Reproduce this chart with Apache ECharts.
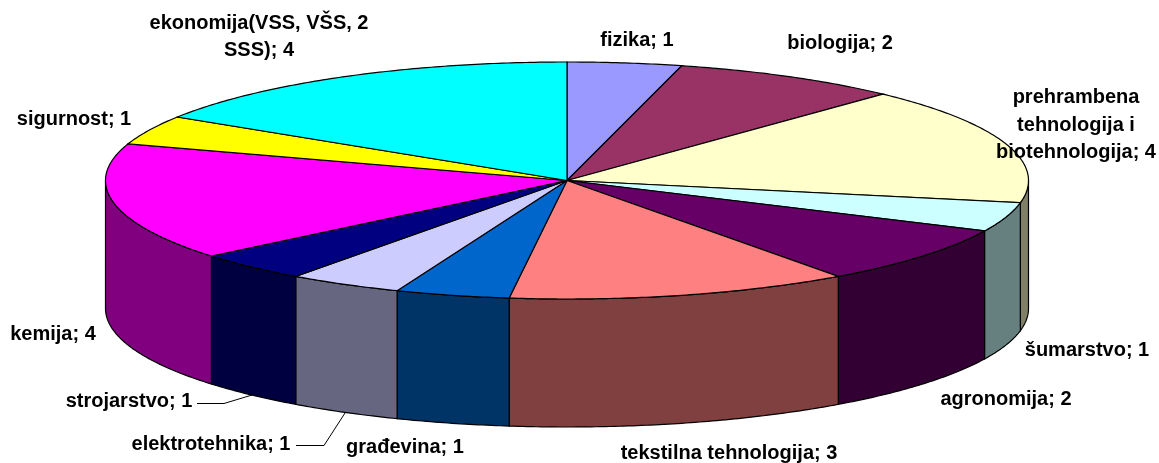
<!DOCTYPE html>
<html>
<head>
<meta charset="utf-8">
<title>pie</title>
<script src="https://cdn.jsdelivr.net/npm/echarts@6/dist/echarts.min.js"></script>
<style>
html,body{margin:0;padding:0;background:#fff;}
#main{width:1159px;height:463px;}
</style>
</head>
<body>
<div id="main"></div>
<script>
var categories = ['fizika','biologija','prehrambena tehnologija i biotehnologija','šumarstvo','agronomija','tekstilna tehnologija','građevina','elektrotehnika','strojarstvo','kemija','sigurnost','ekonomija(VSS, VŠS, 2 SSS)'];
var values = [1,2,4,1,2,3,1,1,1,4,1,4];
var topColors = ['#9999FF','#993366','#FFFFCC','#CCFFFF','#660066','#FF8080','#0066CC','#CCCCFF','#000080','#FF00FF','#FFFF00','#00FFFF'];
var sideColors = ['#4D4D80','#4D1A33','#808066','#668080','#330033','#804040','#003366','#666680','#000040','#800080','#808000','#008080'];
var labelTexts = ['fizika; 1','biologija; 2','prehrambena\ntehnologija i\nbiotehnologija; 4','šumarstvo; 1','agronomija; 2','tekstilna tehnologija; 3','građevina; 1','elektrotehnika; 1','strojarstvo; 1','kemija; 4','sigurnost; 1','ekonomija(VSS, VŠS, 2\nSSS); 4'];
// sredina svakog natpisa
var labelPos = [[637,40],[840,43],[1076,125],[1087,350],[1006,399],[729,453],[405,447],[211,444],[129,401],[53,334],[74,119],[259,37]];

var total = 0;
for(var i = 0;i < values.length;i++)
{
	total += values[i];
}
var cx = 567, cy = 180.5, rx = 461.5, ry = 118.5, depth = 128;

function ellipsePoint(angle, dy)
{
	return [cx + rx*Math.sin(angle), cy - ry*Math.cos(angle) + dy];
}
function arcPoints(from, to, dy)
{
	var pts = [];
	var n = Math.max(2, Math.ceil((to - from)/0.01));
	for(var i = 0;i <= n;i++)
	{
		pts.push(ellipsePoint(from + (to - from)*i/n, dy));
	}
	return pts;
}
function renderSlice(params, api)
{
	var idx = params.dataIndex;
	var before = 0;
	for(var i = 0;i < idx;i++)
	{
		before += values[i];
	}
	var a0 = before/total*Math.PI*2;
	var a1 = (before + api.value(0))/total*Math.PI*2;
	var children = [];
	//只画前面看得见的侧面
	var s0 = Math.max(a0, Math.PI/2), s1 = Math.min(a1, Math.PI*1.5);
	if(s1 > s0)
	{
		var side = arcPoints(s0, s1, 0).concat(arcPoints(s0, s1, depth).reverse());
		children.push({
			type: 'polygon',
			shape: {points: side},
			style: {fill: sideColors[idx], stroke: '#000', lineWidth: 1.2}
		});
	}
	children.push({
		type: 'polygon',
		shape: {points: [[cx, cy]].concat(arcPoints(a0, a1, 0))},
		style: {fill: topColors[idx], stroke: '#000', lineWidth: 1.2}
	});
	return {type: 'group', children: children};
}
function renderLabels()
{
	var children = [];
	for(var i = 0;i < labelTexts.length;i++)
	{
		children.push({
			type: 'text',
			z: 100,
			style: {
				x: labelPos[i][0],
				y: labelPos[i][1],
				text: labelTexts[i],
				align: 'center',
				verticalAlign: 'middle',
				fill: '#000',
				lineHeight: 27.5,
				font: 'bold 20px "Liberation Sans", Arial, sans-serif'
			}
		});
	}
	return children;
}
var leaders = [
	[[197,403.5],[224,403.5],[252,395]],
	[[296,445.5],[324,445.5],[345,413]]
];
var graphicItems = renderLabels();
for(var j = 0;j < leaders.length;j++)
{
	graphicItems.push({
		type: 'polyline',
		z: 100,
		shape: {points: leaders[j]},
		style: {stroke: '#000', lineWidth: 1, fill: null}
	});
}

var sliceData = [];
for(var k = 0;k < values.length;k++)
{
	sliceData.push({name: categories[k], value: [values[k]]});
}
var myChart = echarts.init(document.getElementById('main'), null, {renderer: 'canvas'});
var option = {
	backgroundColor: '#fff',
	animation: false,
	graphic: {elements: graphicItems},
	series: [{
		type: 'custom',
		coordinateSystem: 'none',
		renderItem: renderSlice,
		silent: true,
		data: sliceData
	}]
};
myChart.setOption(option);
</script>
</body>
</html>
